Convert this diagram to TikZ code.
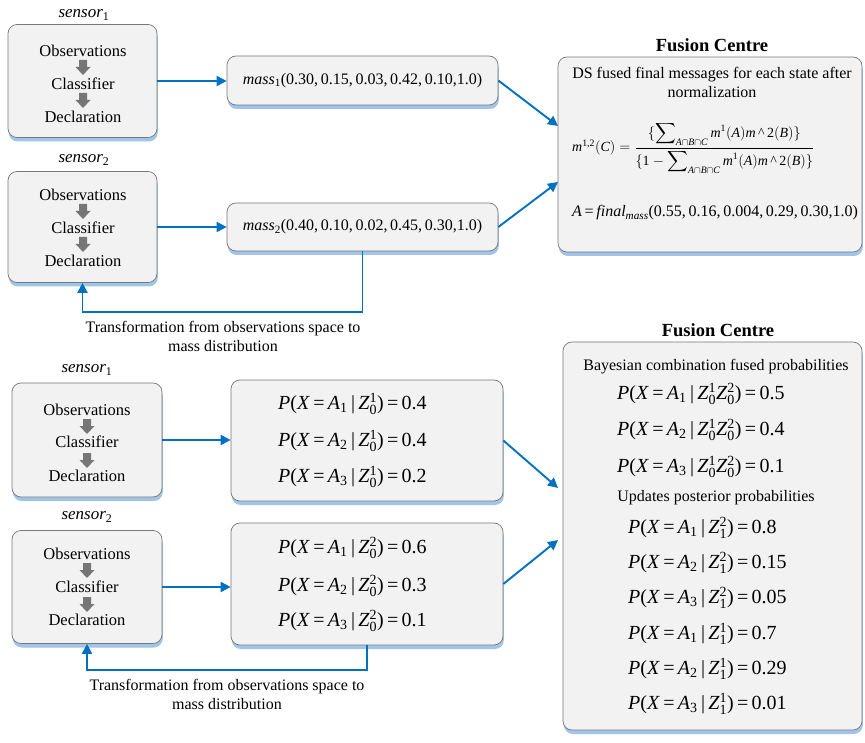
\documentclass[tikz,border=0pt]{standalone}
\usepackage{amsmath}
\usepackage{fontspec}
\setmainfont{Liberation Serif}
\usetikzlibrary{shadows,arrows.meta}
\definecolor{boxfill}{RGB}{242,242,242}
\definecolor{boxdraw}{RGB}{120,120,120}
\definecolor{lblue}{RGB}{0,112,192}
\definecolor{shadowc}{RGB}{160,197,232}
\definecolor{agray}{RGB}{118,118,118}
\newcommand{\mysub}[1]{\textsubscript{\upshape #1}}
\newcommand{\mi}[1]{\text{\itshape #1}}
\newcommand{\pline}[4]{\textit{P}(\textit{X}\,=\,\textit{A}\mysub{#1}\,|\,\textit{Z}$^{\text{#2}}_{\text{#3}}$)\,=\,#4}
\newcommand{\pfused}[2]{\textit{P}(\textit{X}\,=\,\textit{A}\mysub{#1}\,|\,\textit{Z}$^{\text{1}}_{\text{0}}$\textit{Z}$^{\text{2}}_{\text{0}}$)\,=\,#2}
\newcommand{\sumpart}{\sum\nolimits_{\mi{A}\cap \mi{B}\cap \mi{C}}\mi{m}^{\text{1}}(\mi{A})\mi{m}\,\text{\textasciicircum}\,\text{2}(\mi{B})}
\tikzset{
  rbox/.style={draw=boxdraw, fill=boxfill, rounded corners=9pt, line width=0.7pt,
    drop shadow={shadow xshift=0.8pt, shadow yshift=-4pt, fill=shadowc, opacity=1},
    inner sep=0pt},
  stxt/.style={font=\fontsize{16.5}{19}\selectfont, inner sep=0pt},
  ntxt/.style={font=\fontsize{16}{19}\selectfont, inner sep=0pt},
  ptxt/.style={font=\fontsize{20}{24}\selectfont, inner sep=0pt, anchor=west},
  slbl/.style={font=\fontsize{17}{20}\selectfont\itshape, inner sep=0pt},
  ttl/.style={font=\fontsize{18.5}{22}\selectfont\bfseries, inner sep=0pt},
  conn/.style={draw=lblue, line width=1.9pt, -{Triangle[length=10pt,width=10pt]}},
  darr/.pic={\fill[agray] (-4,-7) -- (4,-7) -- (4,0) -- (7.5,0) -- (0,8) -- (-7.5,0) -- (-4,0) -- cycle;}
}
\begin{document}
\begin{tikzpicture}[x=1pt,y=-1pt]
\useasboundingbox (0,0) rectangle (865,743);

% ---------------- TOP SECTION ----------------
\node[slbl] (s1l) at (84,15) {sensor\mysub{1}};
\node[rbox, minimum width=149pt, minimum height=113pt] (s1) at (82.5,81) {};
\node[stxt] (s1a) at (83,51) {Observations};
\pic at (83,67) {darr};
\node[stxt] (s1b) at (83,84) {Classifier};
\pic at (83,100) {darr};
\node[stxt] (s1c) at (83,117) {Declaration};

\node[slbl] (s2l) at (84,160) {sensor\mysub{2}};
\node[rbox, minimum width=149pt, minimum height=111pt] (s2) at (82.5,227) {};
\node[stxt] (s2a) at (83,195) {Observations};
\pic at (83,211) {darr};
\node[stxt] (s2b) at (83,228) {Classifier};
\pic at (83,244) {darr};
\node[stxt] (s2c) at (83,261) {Declaration};

\node[rbox, minimum width=271pt, minimum height=49pt, font=\fontsize{16}{19}\selectfont] (m1) at (362.5,80.5)
  {\textit{mass}\mysub{1}(0.30,\,0.15,\,0.03,\,0.42,\,0.10,1.0)};
\node[rbox, minimum width=271pt, minimum height=48pt, font=\fontsize{16}{19}\selectfont] (m2) at (362.5,227)
  {\textit{mass}\mysub{2}(0.40,\,0.10,\,0.02,\,0.45,\,0.30,1.0)};

\node[ttl] (fc1t) at (712,45) {Fusion Centre};
\node[rbox, minimum width=304pt, minimum height=195pt] (fc1) at (710,154.5) {};
\node[ntxt, align=center] (fc1a) at (712,82) {DS fused final messages for each state after\\normalization};
\node[ntxt, anchor=west, font=\fontsize{14}{17}\selectfont] (fc1b) at (572,148)
  {$\mi{m}^{\text{1,2}}(\mi{C})=\dfrac{\{\displaystyle\sumpart\}}{\{\text{1}-\displaystyle\sumpart\}}$};
\node[ntxt, anchor=west] (fc1c) at (572,213)
  {\textit{A}\,=\,\textit{final}\textsubscript{\itshape mass}(0.55,\,0.16,\,0.004,\,0.29,\,0.30,1.0)};

\coordinate (fa1) at (558,126);
\coordinate (fa2) at (558,182);
\coordinate (fb1) at (200,312);

\draw[conn] (s1.east) -- (s1.east -| m1.west);
\draw[conn] (s2.east) -- (s2.east -| m2.west);
\draw[conn] (m1.east) -- (fa1);
\draw[conn] (m2.east) -- (fa2);
\draw[conn] (m2.south) -- (m2.south |- fb1) -| (s2.south);
\node[ntxt, align=center] (tr1) at (223,336) {Transformation from observations space to\\mass distribution};

% ---------------- BOTTOM SECTION ----------------
\node[slbl] (s3l) at (87,370) {sensor\mysub{1}};
\node[rbox, minimum width=150pt, minimum height=114pt] (s3) at (87,440) {};
\node[stxt] (s3a) at (87,410) {Observations};
\pic at (87,426) {darr};
\node[stxt] (s3b) at (87,442) {Classifier};
\pic at (87,460) {darr};
\node[stxt] (s3c) at (87,476) {Declaration};

\node[slbl] (s4l) at (87,517) {sensor\mysub{2}};
\node[rbox, minimum width=150pt, minimum height=113pt] (s4) at (87,587) {};
\node[stxt] (s4a) at (87,554) {Observations};
\pic at (87,570) {darr};
\node[stxt] (s4b) at (87,587) {Classifier};
\pic at (87,604) {darr};
\node[stxt] (s4c) at (87,620) {Declaration};

\node[rbox, minimum width=272pt, minimum height=121pt] (p1) at (367,440.5) {};
\node[ptxt] (p1a) at (278,404) {\pline{1}{1}{0}{0.4}};
\node[ptxt] (p1b) at (278,441) {\pline{2}{1}{0}{0.4}};
\node[ptxt] (p1c) at (278,477) {\pline{3}{1}{0}{0.2}};

\node[rbox, minimum width=272pt, minimum height=122pt] (p2) at (367,584) {};
\node[ptxt] (p2a) at (278,548) {\pline{1}{2}{0}{0.6}};
\node[ptxt] (p2b) at (278,586) {\pline{2}{2}{0}{0.3}};
\node[ptxt] (p2c) at (278,621) {\pline{3}{2}{0}{0.1}};

\node[ttl] (fc2t) at (718,330) {Fusion Centre};
\node[rbox, minimum width=299pt, minimum height=388pt] (fc2) at (712.5,536) {};
\node[ntxt] (fc2a) at (716,367) {Bayesian combination fused probabilities};
\node[ptxt] (fc2b) at (617,394) {\pfused{1}{0.5}};
\node[ptxt] (fc2c) at (617,430) {\pfused{2}{0.4}};
\node[ptxt] (fc2d) at (617,467) {\pfused{3}{0.1}};
\node[ntxt] (fc2e) at (716,498) {Updates posterior probabilities};
\node[ptxt] (fc2f) at (628,528) {\pline{1}{2}{1}{0.8}};
\node[ptxt] (fc2g) at (628,563) {\pline{2}{2}{1}{0.15}};
\node[ptxt] (fc2h) at (628,598) {\pline{3}{2}{1}{0.05}};
\node[ptxt] (fc2i) at (628,634) {\pline{1}{1}{1}{0.7}};
\node[ptxt] (fc2j) at (628,669) {\pline{2}{1}{1}{0.29}};
\node[ptxt] (fc2k) at (628,704) {\pline{3}{1}{1}{0.01}};

\coordinate (fa3) at (558,488);
\coordinate (fa4) at (558,540);
\coordinate (fb2) at (200,670);

\draw[conn] (s3.east) -- (s3.east -| p1.west);
\draw[conn] (s4.east) -- (s4.east -| p2.west);
\draw[conn] (p1.east) -- (fa3);
\draw[conn] (p2.east) -- (fa4);
\draw[conn] (p2.south) -- (p2.south |- fb2) -| (s4.south);
\node[ntxt, align=center] (tr2) at (227,694) {Transformation from observations space to\\mass distribution};
\end{tikzpicture}
\end{document}
